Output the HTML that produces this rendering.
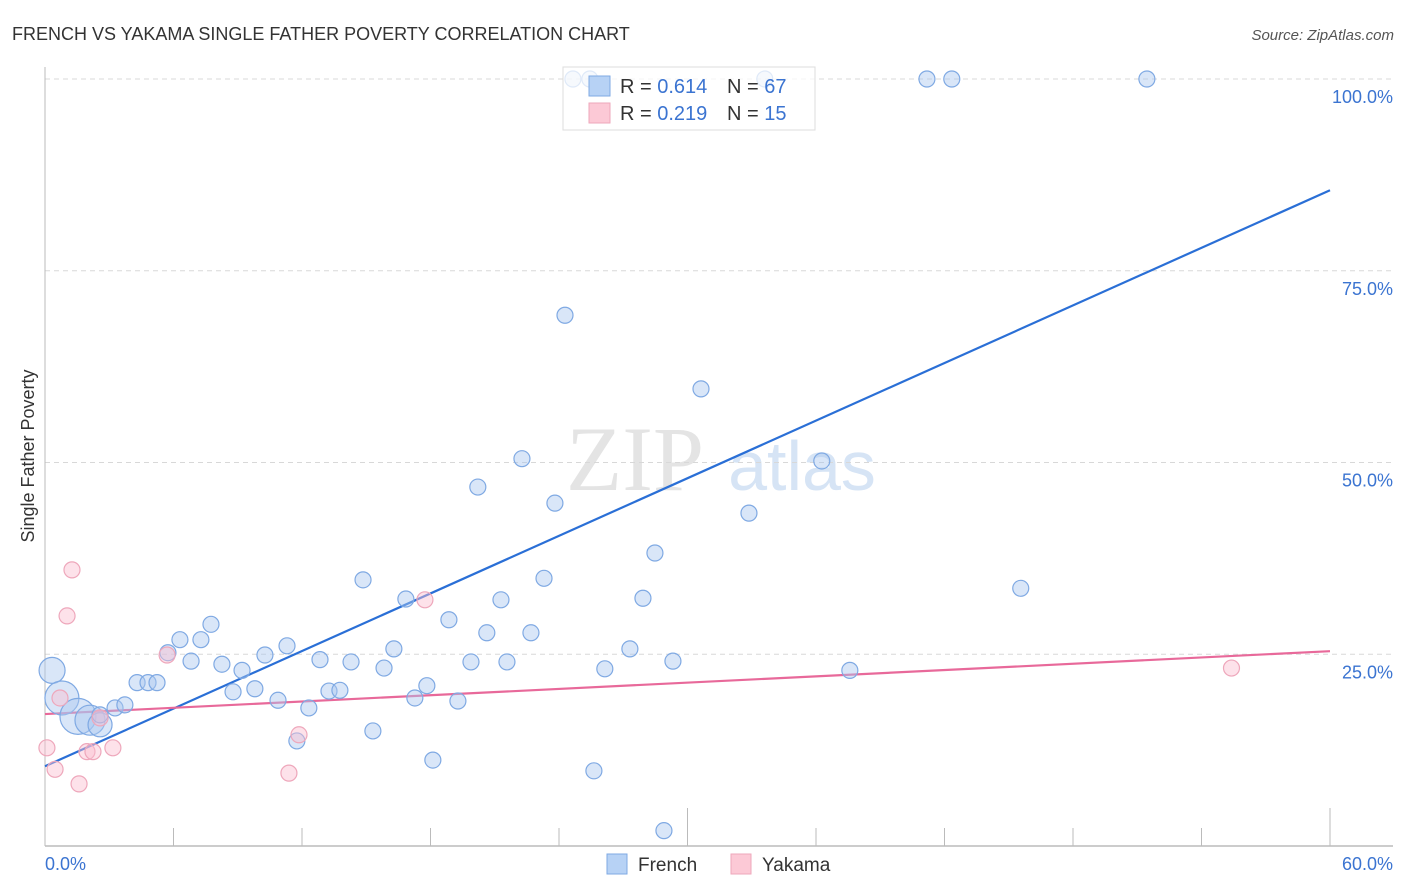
<!DOCTYPE html>
<html><head><meta charset="utf-8">
<style>
body{margin:0;background:#fff;font-family:"Liberation Sans",sans-serif;}
#wrap{position:relative;width:1406px;height:892px;overflow:hidden;}
</style></head>
<body>
<div id="wrap">
<svg id="svg" width="1406" height="892" xmlns="http://www.w3.org/2000/svg" font-family="Liberation Sans, sans-serif">
<text x="12" y="40" font-size="18" fill="#333">FRENCH VS YAKAMA SINGLE FATHER POVERTY CORRELATION CHART</text>
<text x="1394" y="40" font-size="15" fill="#555" text-anchor="end" font-style="italic">Source: ZipAtlas.com</text>
<text x="0" y="0" font-size="18" fill="#333" text-anchor="middle" transform="translate(34,456) rotate(-90)">Single Father Poverty</text>
<g>
<text x="635" y="490" font-size="92" fill="#e4e4e4" text-anchor="middle" font-family="Liberation Serif, serif">ZIP</text>
<text x="802" y="490" font-size="70" fill="#d6e4f5" text-anchor="middle">atlas</text>
</g>
<g id="grid"></g>
<g id="axes"></g>
<g id="lines"></g>
<g id="pts"></g>
<g>
<rect x="563" y="67" width="252" height="63" fill="#fff" fill-opacity="0.75" stroke="#ddd"/>
<rect x="589" y="76" width="21" height="20" fill="#b7d2f5" stroke="#7fa9e3"/>
<text x="620" y="93" font-size="20" fill="#333">R = <tspan fill="#3b74d1">0.614</tspan></text>
<text x="727" y="93" font-size="20" fill="#333">N = <tspan fill="#3b74d1">67</tspan></text>
<rect x="589" y="103" width="21" height="20" fill="#fcc9d6" stroke="#eea7bb"/>
<text x="620" y="120" font-size="20" fill="#333">R = <tspan fill="#3b74d1">0.219</tspan></text>
<text x="727" y="120" font-size="20" fill="#333">N = <tspan fill="#3b74d1"> 15</tspan></text>
</g>
<g>
<rect x="607" y="854" width="20" height="20" fill="#b7d2f5" stroke="#7fa9e3"/>
<text x="638" y="871" font-size="19" fill="#333">French</text>
<rect x="731" y="854" width="20" height="20" fill="#fcc9d6" stroke="#eea7bb"/>
<text x="762" y="871" font-size="19" fill="#333">Yakama</text>
</g>
</svg>
</div>
<script>
const frenchX=[0.33,0.79,1.54,2.1,2.57,3.27,3.73,4.3,4.81,5.23,5.74,6.3,6.82,7.28,7.75,8.26,8.78,9.2,9.8,10.27,10.88,11.3,11.76,12.32,12.84,13.26,13.77,14.29,14.85,15.31,15.83,16.29,16.85,17.27,17.83,18.11,18.86,19.28,19.89,20.21,20.63,21.29,21.57,22.27,22.69,23.3,23.81,24.28,25.63,26.14,27.31,27.92,28.48,28.9,29.32,30.63,32.87,36.27,37.58,45.56,24.65,25.44,33.61,41.18,42.34,51.45,2.57];
const frenchY=[22.9,19.3,16.9,16.4,15.8,18.0,18.4,21.3,21.3,21.3,25.2,26.9,24.1,26.9,28.9,23.7,20.1,22.9,20.5,24.9,19.0,26.1,13.7,18.0,24.3,20.2,20.3,24.0,34.7,15.0,23.2,25.7,32.2,19.3,20.9,11.2,29.5,18.9,24.0,46.8,27.8,32.1,24.0,50.5,27.8,34.9,44.7,69.2,9.8,23.1,25.7,32.3,38.2,2.0,24.1,59.6,43.4,50.2,22.9,33.6,100,100,100,100,100,100,17.1];
const frenchSize=[13,17,18,15,12,8,8,8,8,8,8,8,8,8,8,8,8,8,8,8,8,8,8,8,8,8,8,8,8,8,8,8,8,8,8,8,8,8,8,8,8,8,8,8,8,8,8,8,8,8,8,8,8,8,8,8,8,8,8,8,8,8,8,8,8,8,8];
const yakamaX=[0.09,0.47,1.26,1.03,1.59,0.7,1.96,2.24,3.17,5.7,11.39,11.86,17.74,55.4,2.57];
const yakamaY=[12.8,10.0,36.0,30.0,8.1,19.3,12.3,12.3,12.8,24.9,9.5,14.5,32.1,23.2,16.7];
const frenchTrend=[10.4,85.5];
const yakamaTrend=[17.2,25.4];
const yTicks=[25,50,75,100];
const yTickLabels=["25.0%","50.0%","75.0%","100.0%"];
const xTicks=[0,6,12,18,24,30,36,42,48,54,60];

const NS="http://www.w3.org/2000/svg";
const X0=45,X1=1330,Y0=846,Y1=79;
function sx(v){return X0+(X1-X0)*v/60;}
function sy(v){return Y0-(Y0-Y1)*v/100;}
function mk(parent,tag,attrs){const e=document.createElementNS(NS,tag);for(const k in attrs)e.setAttribute(k,attrs[k]);document.getElementById(parent).appendChild(e);return e;}

yTicks.forEach((t,i)=>{
  const g=mk('grid','line',{x1:X0,x2:1393,y1:sy(t),y2:sy(t),stroke:'#d8d8d8','stroke-dasharray':'5,4'});
  
  
  const l=mk('grid','text',{x:1393,y:sy(t)+24,'text-anchor':'end','font-size':18,fill:'#3b74d1'});
  l.textContent=yTickLabels[i];
  
  
});
let a=mk('axes','line',{x1:X0,x2:X0,y1:67,y2:Y0,stroke:'#bbb'});


a=mk('axes','line',{x1:X0,x2:1393,y1:Y0,y2:Y0,stroke:'#bbb','stroke-width':1.5});


xTicks.forEach(t=>{
  const major=(t===30||t===60);
  const tk=mk('axes','line',{x1:sx(t),x2:sx(t),y1:major?808:828,y2:Y0,stroke:'#bbb'});
  
  
});
let xl=mk('axes','text',{x:45,y:870,'font-size':18,fill:'#3b74d1'});xl.textContent='0.0%';


xl=mk('axes','text',{x:1393,y:870,'font-size':18,fill:'#3b74d1','text-anchor':'end'});xl.textContent='60.0%';



frenchX.forEach((x,i)=>{
  const c=mk('pts','circle',{cx:sx(x),cy:sy(frenchY[i]),r:frenchSize[i],fill:'rgba(170,200,240,0.45)',stroke:'#7fa9e3','stroke-width':1.2});
  
  
});
yakamaX.forEach((x,i)=>{
  const c=mk('pts','circle',{cx:sx(x),cy:sy(yakamaY[i]),r:8,fill:'rgba(250,190,208,0.45)',stroke:'#eea7bb','stroke-width':1.2});
  
  
});
let ln=mk('lines','line',{x1:sx(0),y1:sy(frenchTrend[0]),x2:sx(60),y2:sy(frenchTrend[1]),stroke:'#2a6fd6','stroke-width':2.2});


ln=mk('lines','line',{x1:sx(0),y1:sy(yakamaTrend[0]),x2:sx(60),y2:sy(yakamaTrend[1]),stroke:'#e8699a','stroke-width':2.2});


</script>
</body></html>
